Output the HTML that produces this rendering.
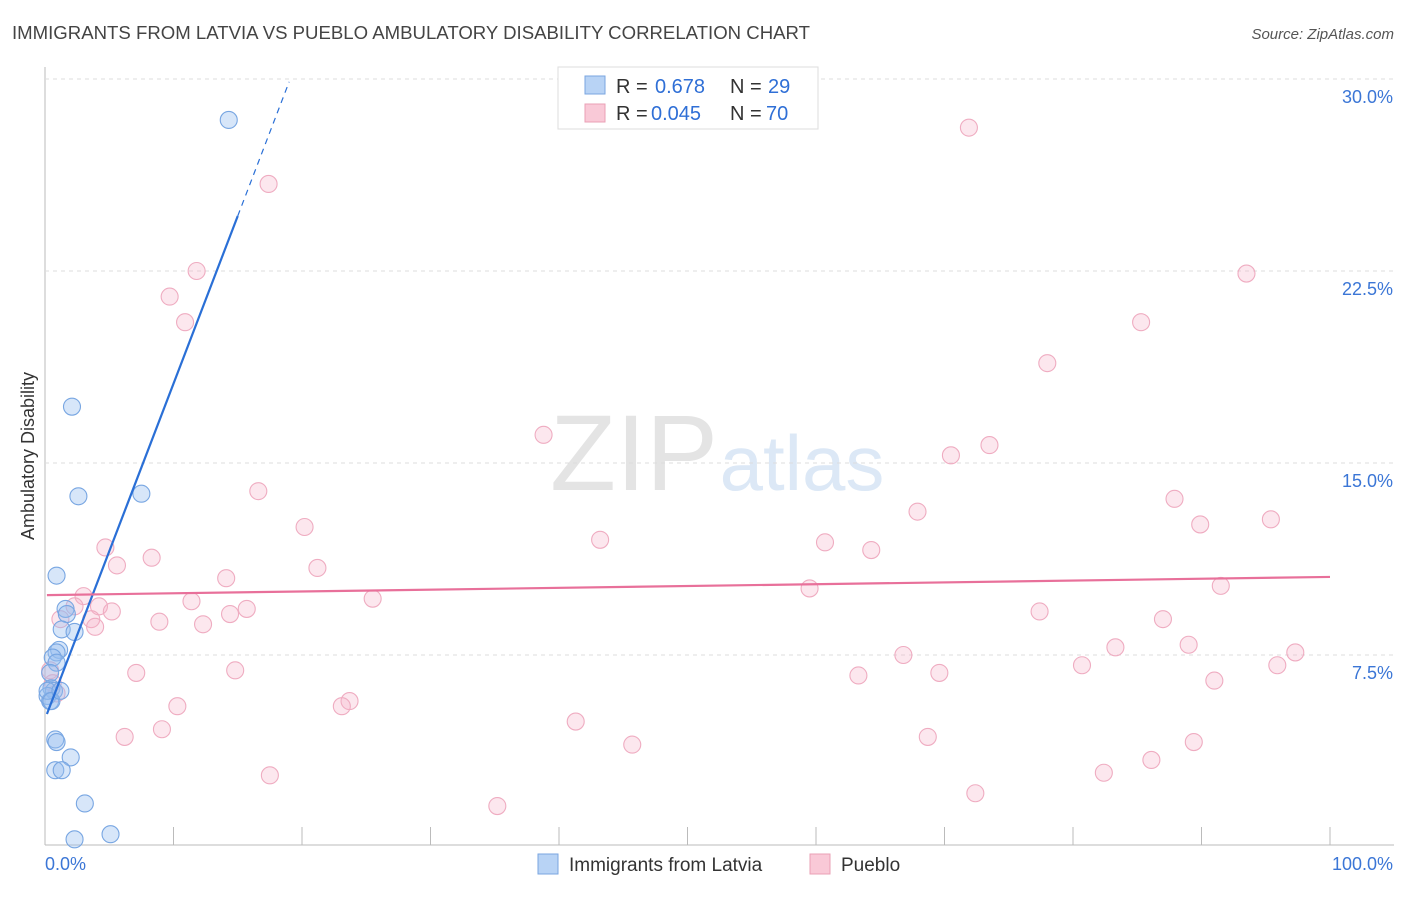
<!DOCTYPE html>
<html><head><meta charset="utf-8"><style>
body{margin:0;background:#fff;font-family:"Liberation Sans",sans-serif;}
svg text{font-family:"Liberation Sans",sans-serif;}
</style></head><body>
<svg id="c" width="1406" height="892" xmlns="http://www.w3.org/2000/svg">
<text x="12" y="39" font-size="18.6" fill="#444">IMMIGRANTS FROM LATVIA VS PUEBLO AMBULATORY DISABILITY CORRELATION CHART</text>
<text x="1394" y="39" font-size="15" fill="#555" text-anchor="end" font-style="italic">Source: ZipAtlas.com</text>
<text x="34" y="456" font-size="18" fill="#333" text-anchor="middle" transform="rotate(-90 34 456)">Ambulatory Disability</text>
<g><text x="634" y="490" font-size="108" fill="#e4e4e4" text-anchor="middle" font-family="Liberation Serif">ZIP</text><text x="802" y="490" font-size="78" fill="#dce8f6" text-anchor="middle">atlas</text></g>
<g id="grid"></g><g id="pts"></g><g id="lines"></g>
<g>
<rect x="558" y="67" width="260" height="62" fill="#fff" stroke="#ddd"/>
<rect x="585" y="76" width="20" height="18" fill="#b8d3f5" stroke="#7aa6e0"/>
<text x="616" y="93" font-size="20" fill="#333">R =</text><text x="655" y="93" font-size="20" fill="#2f6fd6">0.678</text>
<text x="730" y="93" font-size="20" fill="#333">N =</text><text x="768" y="93" font-size="20" fill="#2f6fd6">29</text>
<rect x="585" y="104" width="20" height="18" fill="#f9c9d7" stroke="#eaa0b6"/>
<text x="616" y="120" font-size="20" fill="#333">R =</text><text x="651" y="120" font-size="20" fill="#2f6fd6">0.045</text>
<text x="730" y="120" font-size="20" fill="#333">N =</text><text x="766" y="120" font-size="20" fill="#2f6fd6">70</text>
</g>
<g>
<rect x="538" y="854" width="20" height="20" fill="#b8d3f5" stroke="#7aa6e0"/>
<text x="569" y="871" font-size="19" fill="#333">Immigrants from Latvia</text>
<rect x="810" y="854" width="20" height="20" fill="#f9c9d7" stroke="#eaa0b6"/>
<text x="841" y="871" font-size="19" fill="#333">Pueblo</text>
</g>
</svg>
<script>
const yTicks=[7.5,15,22.5,30];
const yTickLabels=["7.5%","15.0%","22.5%","30.0%"];
const xTickLabels=["0.0%","100.0%"];
const latviaX=[14.3,2.1,2.6,7.5,0.9,1.6,1.7,1.3,2.3,1.1,0.9,0.6,0.9,0.4,0.5,0.7,0.2,0.4,0.8,0.9,2.0,0.8,1.3,3.1,2.3,5.1,0.2,0.5,1.2];
const latviaY=[28.4,17.2,13.7,13.8,10.6,9.3,9.1,8.5,8.4,7.7,7.6,7.4,7.2,6.8,6.2,6.1,5.9,5.7,4.2,4.1,3.5,3.0,3.0,1.7,0.3,0.5,6.1,5.7,6.1];
const puebloX=[71.9,17.4,11.8,9.7,10.9,93.5,85.3,78.0,38.8,73.5,70.5,16.6,87.9,67.9,95.4,89.9,20.2,43.2,60.7,64.3,4.7,8.3,5.6,21.2,14.1,59.5,91.5,3.0,11.4,25.5,2.3,4.2,5.2,15.7,14.4,77.4,3.6,8.9,12.3,3.9,87.0,83.3,89.0,97.3,66.8,80.7,95.9,7.1,14.8,63.3,69.6,91.0,0.4,0.6,23.7,23.1,10.3,41.3,9.1,6.2,68.7,45.7,89.4,86.1,17.5,82.4,72.4,35.2,0.9,1.2];
const puebloY=[28.1,25.9,22.5,21.5,20.5,22.4,20.5,18.9,16.1,15.7,15.3,13.9,13.6,13.1,12.8,12.6,12.5,12.0,11.9,11.6,11.7,11.3,11.0,10.9,10.5,10.1,10.2,9.8,9.6,9.7,9.4,9.4,9.2,9.3,9.1,9.2,8.9,8.8,8.7,8.6,8.9,7.8,7.9,7.6,7.5,7.1,7.1,6.8,6.9,6.7,6.8,6.5,6.9,6.4,5.7,5.5,5.5,4.9,4.6,4.3,4.3,4.0,4.1,3.4,2.8,2.9,2.1,1.6,6.0,8.9];
const latviaTrend=[5.0,1.31];
const puebloTrend=[9.84,0.0071];
const X=v=>45+v*12.85, Y=v=>847-v*25.6;
const NS="http://www.w3.org/2000/svg";
function mk(p,t,a){const e=document.createElementNS(NS,t);for(const k in a)e.setAttribute(k,a[k]);p.appendChild(e);return e;}
const g=document.getElementById('grid');
mk(g,'line',{x1:45,y1:845,x2:1394,y2:845,stroke:'#bbb'});
mk(g,'line',{x1:45,y1:67,x2:45,y2:845,stroke:'#bbb'});
for(let i=0;i<=10;i++){const t=mk(g,'line',{x1:X(i*10),y1:827,x2:X(i*10),y2:845,stroke:'#bbb'});

}
yTicks.forEach((v,i)=>{const l=mk(g,'line',{x1:45,y1:Y(v),x2:1394,y2:Y(v),stroke:'#ddd','stroke-dasharray':'4,4'});


const t=mk(g,'text',{x:1393,y:Y(v)+24,'font-size':18,fill:'#3b76d6','text-anchor':'end'});t.textContent=yTickLabels[i];

});
xTickLabels.forEach((s,i)=>{const t=mk(g,'text',{x:i?1393:45,y:870,'font-size':18,fill:'#3b76d6','text-anchor':i?'end':'start'});t.textContent=s;

});
const P=document.getElementById('pts');
puebloX.forEach((x,i)=>{const c=mk(P,'circle',{cx:X(x),cy:Y(puebloY[i]),r:8.5,fill:'rgba(246,176,198,0.3)',stroke:'#efacc1','stroke-width':1.1});

});
latviaX.forEach((x,i)=>{const c=mk(P,'circle',{cx:X(x),cy:Y(latviaY[i]),r:8.5,fill:'rgba(150,190,240,0.38)',stroke:'#78a6e2','stroke-width':1.1});

});
const L=document.getElementById('lines');
const a=mk(L,'line',{x1:X(0.15),y1:Y(latviaTrend[0]+latviaTrend[1]*0.15),x2:X(15),y2:Y(latviaTrend[0]+latviaTrend[1]*15),stroke:'#2a6fd6','stroke-width':2.2});


const b=mk(L,'line',{x1:X(15),y1:Y(latviaTrend[0]+latviaTrend[1]*15),x2:X(19),y2:Y(latviaTrend[0]+latviaTrend[1]*19),stroke:'#2a6fd6','stroke-width':1.2,'stroke-dasharray':'6,5'});


const d=mk(L,'line',{x1:X(0.15),y1:Y(puebloTrend[0]),x2:X(100),y2:Y(puebloTrend[0]+puebloTrend[1]*100),stroke:'#e8709a','stroke-width':2.2});


</script>
</body></html>
